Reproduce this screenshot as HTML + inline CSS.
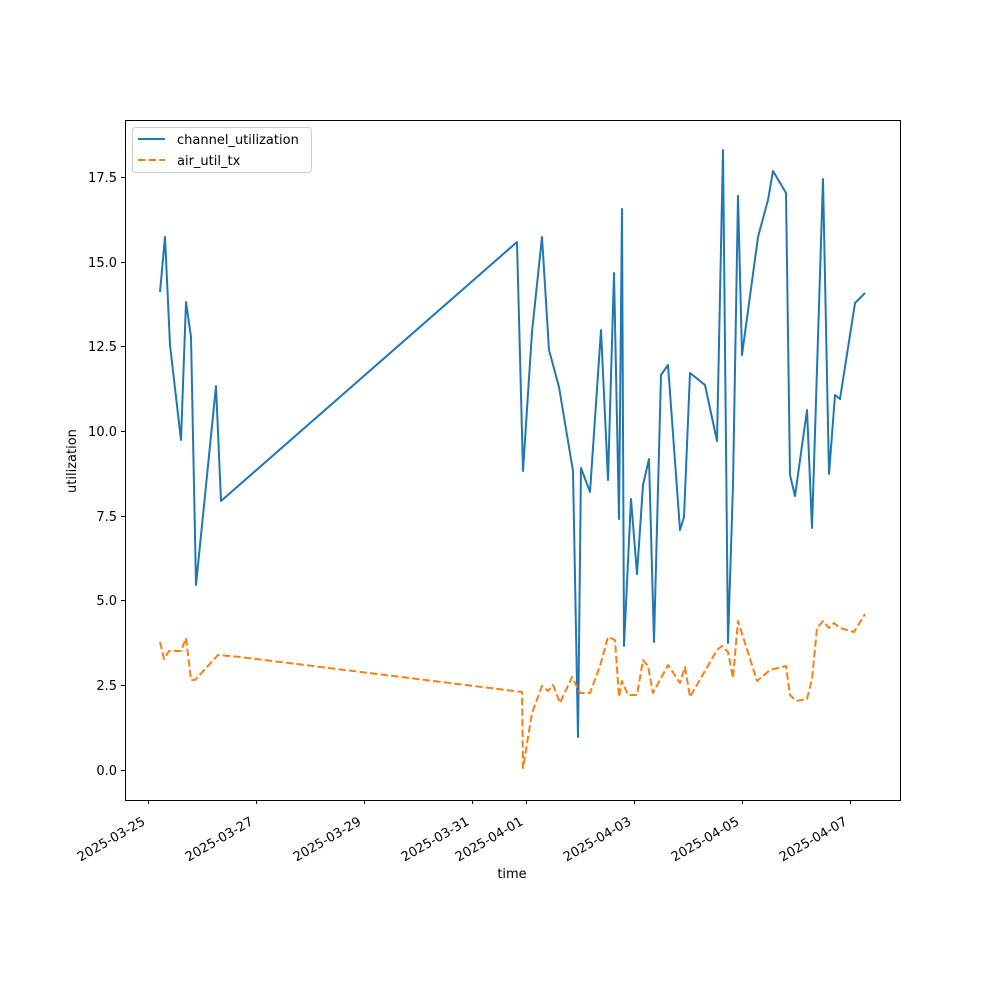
<!DOCTYPE html>
<html><head><meta charset="utf-8"><style>body{margin:0;background:#fff}svg{display:block}text{font-family:"DejaVu Sans","Liberation Sans",sans-serif;font-size:13px;fill:#000}</style></head>
<body>
<svg width="1000" height="1000" viewBox="0 0 1000 1000" xmlns="http://www.w3.org/2000/svg">
<rect width="1000" height="1000" fill="#fff"/>
<g fill="none" stroke-width="2" stroke-linejoin="round">
<polyline stroke="#1f77b4" points="160,292 165,237 170,345 181,440 186,302 191,337 196,585 216,386 221,501 517,242 523,471 532,332 542,237 549,350 559,387 573,471 578,737 581,468 590,492 601,330 608,480 614,273 619,519 622,209 624,646 631,499 637,574 643,485 649,459 654,642 661,375 668,365 680,530 684,517 690,373 705,385 717,441 723,150 728,643 733,485 738,196 742,355 758,237 768,200 773,171 786,193 790,475 795,496 807,410 812,528 823,179 829,474 835,395 840,399 855,303 865,293"/>
<polyline stroke="#ff7f0e" stroke-dasharray="7.4,3.2" points="160,642 164,659 169,651 181,651 186,638 191,680 195,680 218,655 240,657 522,692 523,768 532,713 542,686 548,691 553,685 560,703 572,677 580,693 590,693 600,666 608,637 615,640 619,697 622,681 628,695 637,695 643,660 648,666 653,693 668,665 680,683 685,667 690,697 717,650 722,646 728,652 733,678 738,621 757,681 770,670 786,666 790,695 796,701 807,699 812,679 817,628 823,621 829,628 834,623 840,628 854,632 865,614"/>
</g>
<rect x="125.5" y="120.5" width="775" height="680" fill="none" stroke="#000" stroke-width="1"/>
<g stroke="#000" stroke-width="1">
<line x1="121" x2="125" y1="770.5" y2="770.5"/><line x1="121" x2="125" y1="685.5" y2="685.5"/><line x1="121" x2="125" y1="600.5" y2="600.5"/><line x1="121" x2="125" y1="516.5" y2="516.5"/><line x1="121" x2="125" y1="431.5" y2="431.5"/><line x1="121" x2="125" y1="346.5" y2="346.5"/><line x1="121" x2="125" y1="262.5" y2="262.5"/><line x1="121" x2="125" y1="177.5" y2="177.5"/>
<line x1="148.5" x2="148.5" y1="800" y2="804"/><line x1="256.5" x2="256.5" y1="800" y2="804"/><line x1="364.5" x2="364.5" y1="800" y2="804"/><line x1="472.5" x2="472.5" y1="800" y2="804"/><line x1="526.5" x2="526.5" y1="800" y2="804"/><line x1="634.5" x2="634.5" y1="800" y2="804"/><line x1="742.5" x2="742.5" y1="800" y2="804"/><line x1="850.5" x2="850.5" y1="800" y2="804"/>
</g>
<g text-anchor="end">
<text x="117" y="775">0.0</text><text x="117" y="690">2.5</text><text x="117" y="605">5.0</text><text x="117" y="521">7.5</text><text x="117" y="436">10.0</text><text x="117" y="351">12.5</text><text x="117" y="267">15.0</text><text x="117" y="182">17.5</text>
<text transform="translate(146,824) rotate(-30)">2025-03-25</text>
<text transform="translate(254,824) rotate(-30)">2025-03-27</text>
<text transform="translate(362,824) rotate(-30)">2025-03-29</text>
<text transform="translate(470,824) rotate(-30)">2025-03-31</text>
<text transform="translate(524,824) rotate(-30)">2025-04-01</text>
<text transform="translate(632,824) rotate(-30)">2025-04-03</text>
<text transform="translate(740,824) rotate(-30)">2025-04-05</text>
<text transform="translate(848,824) rotate(-30)">2025-04-07</text>
</g>
<text x="512" y="878" text-anchor="middle">time</text>
<text transform="translate(76,461) rotate(-90)" text-anchor="middle">utilization</text>
<rect x="132.5" y="127.5" width="179" height="45" rx="3" fill="#fff" stroke="#ccc"/>
<line x1="138" x2="165" y1="139" y2="139" stroke="#1f77b4" stroke-width="2"/>
<line x1="138" x2="165" y1="160" y2="160" stroke="#ff7f0e" stroke-width="2" stroke-dasharray="7.4,3.2"/>
<text x="177" y="144">channel_utilization</text>
<text x="177" y="165">air_util_tx</text>
</svg>
</body></html>
